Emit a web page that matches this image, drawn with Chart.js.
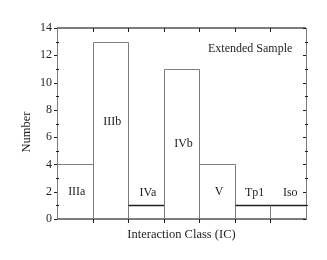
<!DOCTYPE html>
<html>
<head>
<meta charset="utf-8">
<script src="https://cdn.jsdelivr.net/npm/chart.js@4"></script>
<style>
  html, body { margin: 0; padding: 0; background: #fff; }
  #wrap { width: 327px; height: 260px; }
</style>
</head>
<body>
<div id="wrap"><canvas id="chart" width="327" height="260"></canvas></div>
<script>
'use strict';

// ── DATA ─────────────────────────────────────────────────────
const CLASSES = ['IIIa', 'IIIb', 'IVa', 'IVb', 'V', 'Tp1', 'Iso'];
const COUNTS  = [4, 13, 1, 11, 4, 1, 1];
const Y_TICKS = [0, 2, 4, 6, 8, 10, 12, 14];

const FONT = '"Liberation Serif", "DejaVu Serif", serif';
const EDGE = '#7c7c7c';
const INK  = '#1e1e1e';

// ── PLUGIN: frame, ticks, outlines, labels ───────────────────
const histPlugin = {
  id: 'hist',
  afterDatasetsDraw(chart) {
    const { ctx, chartArea: a, scales } = chart;
    const y = scales.y;
    const bars = chart.getDatasetMeta(0).data;

    ctx.save();
    // step outlines
    bars.forEach((b, i) => {
      const l = Math.round(b.x - b.width / 2) + 0.5;
      const r = Math.round(b.x + b.width / 2) + 0.5;
      const t = Math.round(b.y) + 0.5;
      const bot = Math.round(b.base) + 0.5;
      ctx.strokeStyle = EDGE;
      ctx.lineWidth = 1;
      ctx.beginPath();
      ctx.moveTo(l, bot); ctx.lineTo(l, t); ctx.lineTo(r, t); ctx.lineTo(r, bot);
      ctx.stroke();
      if (COUNTS[i] <= 1) {
        ctx.strokeStyle = INK;
        ctx.lineWidth = 1.5;
        ctx.beginPath();
        ctx.moveTo(l, t); ctx.lineTo(r, t);
        ctx.stroke();
      }
    });

    // frame
    ctx.strokeStyle = EDGE;
    ctx.lineWidth = 2;
    ctx.beginPath();
    ctx.moveTo(a.left, a.top); ctx.lineTo(a.right, a.top);
    ctx.moveTo(a.left, a.bottom); ctx.lineTo(a.right + 1, a.bottom);
    ctx.stroke();
    ctx.lineWidth = 1;
    ctx.beginPath();
    ctx.moveTo(a.left + 0.5, a.top); ctx.lineTo(a.left + 0.5, a.bottom);
    ctx.moveTo(a.right + 0.5, a.top); ctx.lineTo(a.right + 0.5, a.bottom);
    ctx.stroke();

    // x ticks at class boundaries
    ctx.strokeStyle = INK;
    ctx.beginPath();
    bars.forEach((b, i) => {
      if (i === 0) return;
      const xb = Math.round(b.x - b.width / 2) + 0.5;
      ctx.moveTo(xb, a.bottom); ctx.lineTo(xb, a.bottom + 4);
      ctx.moveTo(xb, a.top); ctx.lineTo(xb, a.top + 4);
    });
    ctx.stroke();

    // y ticks, major + minor
    ctx.beginPath();
    for (let v = y.min; v <= y.max; v++) {
      const py = Math.round(y.getPixelForValue(v)) + 0.5;
      if (v % 2 === 0) {
        ctx.moveTo(a.left - 3, py); ctx.lineTo(a.left, py);
        ctx.moveTo(a.right - 3, py); ctx.lineTo(a.right, py);
      } else {
        ctx.moveTo(a.left - 1, py); ctx.lineTo(a.left + 2, py);
        ctx.moveTo(a.right - 1, py); ctx.lineTo(a.right + 2, py);
      }
    }
    ctx.stroke();

    // class labels inside the histogram
    ctx.fillStyle = INK;
    ctx.font = '12px ' + FONT;
    ctx.textAlign = 'center';
    ctx.textBaseline = 'middle';
    bars.forEach((b, i) => {
      const v = COUNTS[i];
      let lv;
      if (v >= 12) lv = v * 0.55;
      else if (v >= 4) lv = v / 2;
      else lv = v + 0.9;
      ctx.fillText(CLASSES[i], b.x + 2, y.getPixelForValue(lv));
    });

    // annotation
    ctx.textAlign = 'left';
    ctx.fillText('Extended Sample', 208, 49);

    // axis titles
    ctx.font = '12.5px ' + FONT;
    ctx.textAlign = 'center';
    ctx.fillText('Interaction Class (IC)', (a.left + a.right) / 2, 235);
    ctx.translate(27, 132);
    ctx.rotate(-Math.PI / 2);
    ctx.fillText('Number', 0, 0);
    ctx.restore();
  }
};

// ── CHART ────────────────────────────────────────────────────
new Chart(document.getElementById('chart'), {
  type: 'bar',
  data: {
    labels: CLASSES,
    datasets: [{
      data: COUNTS,
      backgroundColor: 'rgba(0,0,0,0)',
      borderWidth: 0,
      categoryPercentage: 1,
      barPercentage: 1
    }]
  },
  options: {
    responsive: false,
    animation: false,
    devicePixelRatio: 1,
    layout: { padding: { top: 28, right: 21, left: 0, bottom: 0 } },
    plugins: { legend: { display: false }, tooltip: { enabled: false } },
    scales: {
      x: {
        grid: { display: false, drawTicks: false },
        border: { display: false },
        ticks: { display: false },
        afterFit: s => { s.height = 41; }
      },
      y: {
        min: 0, max: 14,
        grid: { display: false, drawTicks: false },
        border: { display: false },
        afterBuildTicks: s => { s.ticks = Y_TICKS.map(v => ({ value: v })); },
        ticks: { color: INK, padding: 5, font: { family: FONT, size: 12 } },
        afterFit: s => { s.width = 57; }
      }
    }
  },
  plugins: [histPlugin]
});
</script>
</body>
</html>
